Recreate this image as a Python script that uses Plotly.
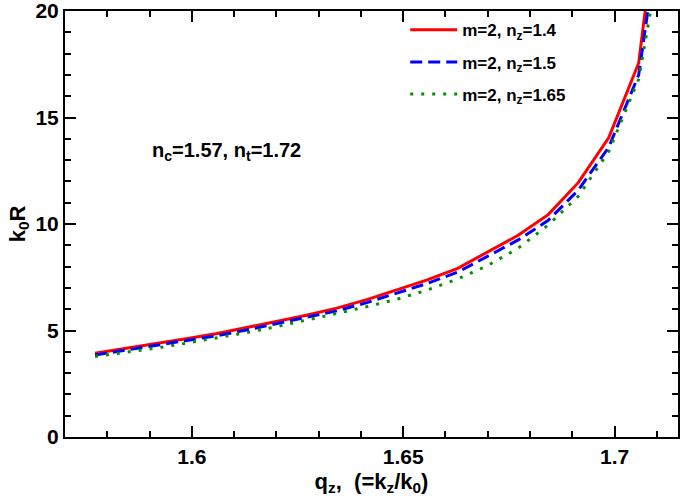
import plotly.graph_objects as go

# q_z sample points
q_z = [1.5771, 1.5843, 1.5914, 1.5986, 1.6057, 1.6129, 1.6200, 1.6271, 1.6343, 1.6414,
       1.6486, 1.6557, 1.6629, 1.6700, 1.6771, 1.6843, 1.6914, 1.6986, 1.7057, 1.7129]

# k0R for m=2, nz=1.4
k0R_nz140 = [3.93, 4.15, 4.38, 4.61, 4.85, 5.12, 5.42, 5.72, 6.05, 6.45,
             6.92, 7.38, 7.92, 8.70, 9.46, 10.44, 11.94, 14.05, 17.56, 29.0]
# k0R for m=2, nz=1.5
k0R_nz150 = [3.85, 4.07, 4.29, 4.52, 4.75, 5.02, 5.31, 5.60, 5.92, 6.31,
             6.77, 7.21, 7.74, 8.50, 9.24, 10.17, 11.59, 13.60, 17.00, 27.0]
# k0R for m=2, nz=1.65
k0R_nz165 = [3.78, 3.97, 4.17, 4.40, 4.64, 4.90, 5.18, 5.47, 5.80, 6.12,
             6.47, 6.90, 7.42, 8.05, 8.85, 9.95, 11.30, 13.40, 16.80, 25.0]

names = ["m=2, n<sub>z</sub>=1.4", "m=2, n<sub>z</sub>=1.5", "m=2, n<sub>z</sub>=1.65"]

x_ticks = [1.6, 1.65, 1.7]
x_tick_labels = ["1.6", "1.65", "1.7"]
y_ticks = [0, 5, 10, 15, 20]

FONT = "Liberation Sans, Arial, Helvetica, sans-serif"

fig = go.Figure()
fig.add_trace(go.Scatter(x=q_z, y=k0R_nz140, mode="lines", name=names[0],
                         line=dict(color="#ff0000", width=3), legendgroup="a"))
fig.add_trace(go.Scatter(x=q_z, y=k0R_nz150, mode="lines", name=names[1],
                         line=dict(color="#0000ff", width=3, dash="12px,6px"), legendgroup="b"))
fig.add_trace(go.Scatter(x=q_z, y=k0R_nz165, mode="lines", name=names[2],
                         line=dict(color="#009000", width=3, dash="3px,8px"), legendgroup="c"))

axis_common = dict(
    showline=True, linecolor="black", linewidth=2, mirror="allticks",
    ticks="inside", ticklen=11, tickwidth=2, tickcolor="black",
    showgrid=False, zeroline=False, ticklabeloverflow="allow", automargin=False,
    tickfont=dict(family=FONT, size=21, color="black", weight="bold"),
)

fig.update_xaxes(
    range=[1.57, 1.715], tickvals=x_ticks, ticktext=x_tick_labels,
    minor=dict(dtick=0.01, tick0=1.6, ticks="inside", ticklen=6, tickwidth=2, tickcolor="black"),
    title=dict(text="q<sub>z</sub>,  (=k<sub>z</sub>/k<sub>0</sub>)",
               font=dict(family=FONT, size=22, color="black", weight="bold"), standoff=6),
    **axis_common,
)
fig.update_yaxes(
    range=[0, 20], tickvals=y_ticks,
    minor=dict(dtick=1, tick0=0, ticks="inside", ticklen=6, tickwidth=2, tickcolor="black"),
    title=dict(text="k<sub>0</sub>R",
               font=dict(family=FONT, size=22, color="black", weight="bold"), standoff=4),
    **axis_common,
)

fig.add_annotation(x=1.5902, y=13.4, xref="x", yref="y", xanchor="left", yanchor="middle",
                   text="n<sub>c</sub>=1.57, n<sub>t</sub>=1.72", showarrow=False,
                   font=dict(family=FONT, size=20, color="black", weight="bold"))

fig.update_layout(
    width=680, height=497,
    margin=dict(l=65, r=2, t=11, b=60),
    paper_bgcolor="white", plot_bgcolor="white",
    showlegend=True,
    legend=dict(x=0.555, y=0.997, xanchor="left", yanchor="top",
                bgcolor="rgba(0,0,0,0)", borderwidth=0,
                font=dict(family=FONT, size=17, color="black", weight="bold"),
                tracegroupgap=7, itemwidth=47),
)

fig.write_html("out.html")
